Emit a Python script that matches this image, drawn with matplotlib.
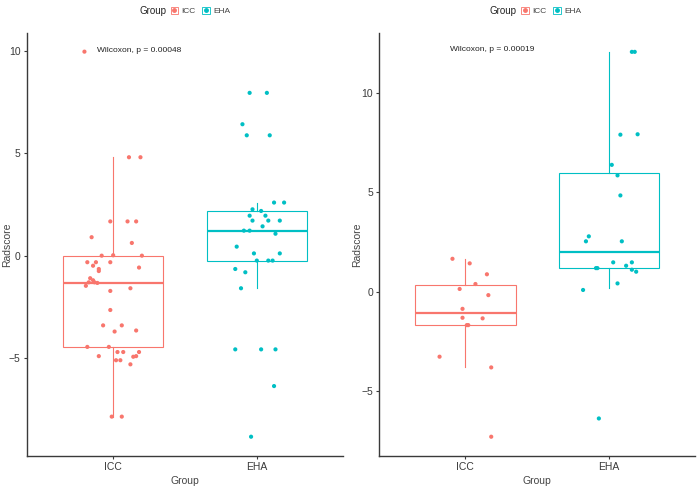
import matplotlib
matplotlib.use("Agg")
import matplotlib.pyplot as plt
from matplotlib.patches import Rectangle
from matplotlib.lines import Line2D

plt.rcParams["font.family"] = ["Liberation Sans", "DejaVu Sans"]

GROUPS = ["ICC", "EHA"]
COLORS = {"ICC": "#F8766D", "EHA": "#00BFC4"}

# panel 1 (left)
icc1_vals = [9.95, 4.8, 4.8, 1.67, 1.67, 1.67, 0.9, 0.62, 0.0, 0.02, 0.0,
             -0.32, -0.49, -0.32, -0.65, -0.75, -0.32, -0.58, -1.1, -1.47,
             -1.2, -1.3, -1.33, -1.3, -1.72, -1.59, -2.65, -3.4, -3.4, -3.7,
             -3.65, -4.45, -4.45, -4.7, -4.7, -4.7, -4.9, -4.93, -4.9, -5.1,
             -5.1, -5.3, -7.85, -7.85]
icc1_jit = [-0.20, 0.11, 0.19, -0.02, 0.10, 0.16, -0.15, 0.13, -0.08, 0.0, 0.20,
            -0.18, -0.14, -0.12, -0.10, -0.10, -0.02, 0.18, -0.16, -0.19,
            -0.14, -0.13, -0.11, -0.17, -0.02, 0.12, -0.02, -0.07, 0.06, 0.01,
            0.16, -0.18, -0.03, 0.03, 0.07, 0.18, 0.16, 0.14, -0.10, 0.02,
            0.05, 0.12, -0.01, 0.06]
eha1_vals = [7.94, 7.94, 6.41, 5.87, 5.87, 2.59, 2.59, 2.26, 2.18, 1.95, 1.95,
             1.71, 1.71, 1.71, 1.43, 1.22, 1.22, 1.07, 0.44, 0.11, 0.11,
             -0.24, -0.24, -0.24, -0.65, -0.81, -1.59, -4.57, -4.57, -4.57,
             -6.36, -8.83]
eha1_jit = [-0.05, 0.07, -0.10, -0.07, 0.09, 0.12, 0.19, -0.03, 0.03, -0.05, 0.06,
            -0.03, 0.08, 0.16, 0.04, -0.09, -0.05, 0.13, -0.14, -0.02, 0.16,
            0.0, 0.08, 0.11, -0.15, -0.08, -0.11, -0.15, 0.03, 0.13,
            0.12, -0.04]
# whislo, q1, median, q3, whishi
box1_icc = [-7.85, -4.47, -1.35, 0.0, 4.8]
box1_eha = [-1.56, -0.24, 1.22, 2.2, 2.55]

# panel 2 (right)
icc2_vals = [1.66, 1.43, 0.88, 0.39, 0.14, -0.17, -0.86, -1.31, -1.34, -1.68,
             -1.68, -3.27, -3.81, -7.30]
icc2_jit = [-0.09, 0.03, 0.15, 0.07, -0.04, 0.16, -0.02, -0.02, 0.12, 0.01,
            0.02, -0.18, 0.18, 0.18]
eha2_vals = [12.08, 12.08, 7.91, 7.93, 6.39, 5.86, 4.85, 2.79, 2.54, 2.54,
             1.48, 1.31, 1.48, 1.19, 1.19, 1.11, 1.01, 0.42, 0.09, -6.38]
eha2_jit = [0.16, 0.18, 0.08, 0.20, 0.02, 0.06, 0.08, -0.14, -0.16, 0.09,
            0.03, 0.12, 0.16, -0.09, -0.08, 0.16, 0.19, 0.06, -0.18, -0.07]
box2_icc = [-3.78, -1.68, -1.09, 0.34, 1.63]
box2_eha = [0.17, 1.18, 2.01, 5.98, 12.08]

PVALS = ["Wilcoxon, p = 0.00048", "Wilcoxon, p = 0.00019"]

panels = [
    dict(rect=[0.0386, 0.0656, 0.4521, 0.8668], ylim=(-9.77, 10.86),
         yticks=[-5, 0, 5, 10], label_y=10.0, ylab_x=-0.047,
         vals=[icc1_vals, eha1_vals], jit=[icc1_jit, eha1_jit],
         boxes=[box1_icc, box1_eha], pval=PVALS[0], legend_x=0.199),
    dict(rect=[0.5426, 0.0656, 0.4517, 0.8668], ylim=(-8.27, 13.03),
         yticks=[-5, 0, 5, 10], label_y=12.2, ylab_x=-0.055,
         vals=[icc2_vals, eha2_vals], jit=[icc2_jit, eha2_jit],
         boxes=[box2_icc, box2_eha], pval=PVALS[1], legend_x=0.701),
]

fig = plt.figure(figsize=(6.99, 4.88), dpi=100)
axis_col = "#3a3a3a"

for p in panels:
    ax = fig.add_axes(p["rect"])
    for i, g in enumerate(GROUPS):
        s = p["boxes"][i]
        stats = [dict(whislo=s[0], q1=s[1], med=s[2], q3=s[3], whishi=s[4], fliers=[])]
        col = COLORS[g]
        ax.bxp(stats, positions=[i + 1], widths=0.70, showcaps=False,
               patch_artist=True,
               boxprops=dict(facecolor="none", edgecolor=col, linewidth=0.8),
               whiskerprops=dict(color=col, linewidth=0.8),
               medianprops=dict(color=col, linewidth=1.6),
               manage_ticks=False)
        xs = [i + 1 + j for j in p["jit"][i]]
        ax.scatter(xs, p["vals"][i], s=9, color=col, edgecolors="none", zorder=3)
    ax.set_xlim(0.4, 2.6)
    ax.set_ylim(*p["ylim"])
    ax.set_xticks([1, 2])
    ax.set_xticklabels(GROUPS)
    ax.set_yticks(p["yticks"])
    for side in ["top", "right"]:
        ax.spines[side].set_visible(False)
    for side in ["left", "bottom"]:
        ax.spines[side].set_color(axis_col)
        ax.spines[side].set_linewidth(1.0)
    ax.tick_params(colors=axis_col, labelsize=7.5, length=2.5, width=0.8, pad=2)
    ax.set_xlabel("Group", fontsize=7.5, color="#444444", labelpad=3)
    ax.set_ylabel("Radscore", fontsize=7.5, color="#444444")
    ax.yaxis.set_label_coords(p["ylab_x"], 0.5)
    ax.text(0.89, p["label_y"], p["pval"], fontsize=6, color="#222222",
            ha="left", va="center")

    # legend on top of each panel
    handles = []
    for g in GROUPS:
        box = Rectangle((0, 0), 1, 1, facecolor="white", edgecolor=COLORS[g],
                        linewidth=0.6)
        dot = Line2D([], [], marker="o", linestyle="none", markersize=2.5,
                     color=COLORS[g])
        handles.append((box, dot))
    lx = p["legend_x"]
    fig.text(lx, 0.977, "Group", fontsize=7, color="#222222",
             ha="left", va="center")
    fig.legend(handles, GROUPS, loc="center left", bbox_to_anchor=(lx + 0.045, 0.977),
               ncol=2, frameon=False, fontsize=6, handlelength=0.9,
               handleheight=0.9, handletextpad=0.4, columnspacing=0.8,
               borderaxespad=0, borderpad=0, labelcolor="#444444")

fig.savefig("out.png", dpi=100)
